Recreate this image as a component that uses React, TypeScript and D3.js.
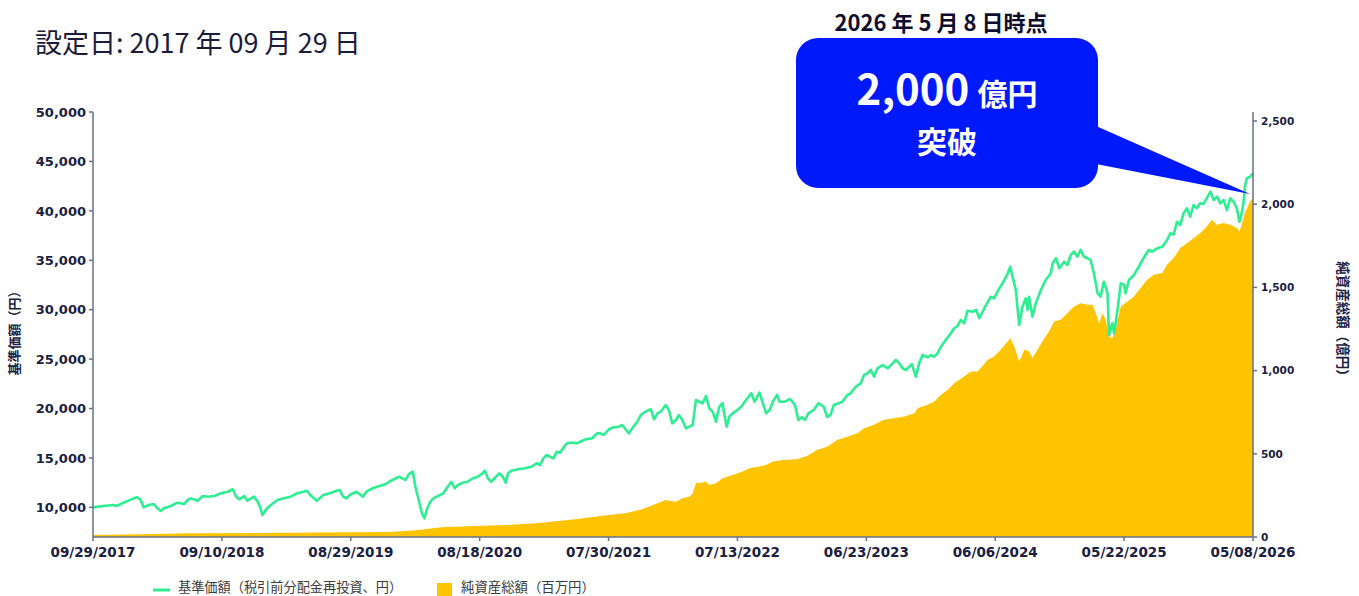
import React from "react";
import * as d3 from "d3";

const launchDate = new Date(2017, 8, 29);

const xTickLabels = [
  "09/29/2017", "09/10/2018", "08/29/2019", "08/18/2020", "07/30/2021",
  "07/13/2022", "06/23/2023", "06/06/2024", "05/22/2025", "05/08/2026",
];

const leftTicks = [10000, 15000, 20000, 25000, 30000, 35000, 40000, 45000, 50000];
const rightTicks = [0, 500, 1000, 1500, 2000, 2500];

// [days since launch, 基準価額 (円)]
const navSeries: [number, number][] = [
  [0,10000],[28,10130],[55,10240],[64,10140],[82,10470],[109,10910],[118,11020],[127,10810],[136,10000],[150,10240],
  [163,10340],[173,9900],[182,9630],[190,9900],[209,10140],[227,10470],[245,10340],[254,10740],[263,10910],[281,10670],
  [295,11150],[308,11080],[326,11150],[344,11420],[362,11580],[376,11830],[385,11080],[394,10810],[407,11150],[416,10670],
  [434,11080],[444,10570],[452,9900],[457,9220],[466,9730],[480,10240],[498,10740],[516,10910],[534,11080],[552,11420],
  [570,11580],[579,11680],[588,11250],[606,10670],[624,11250],[642,11420],[660,11680],[669,11750],[678,11080],[687,10910],
  [696,11250],[714,11580],[723,11350],[732,11080],[742,11580],[759,11930],[778,12160],[796,12360],[805,12590],[814,12770],
  [832,13100],[841,12940],[850,12770],[859,13370],[870,13610],[877,12090],[886,10740],[895,9400],[902,8890],[908,9730],
  [918,10570],[927,10910],[936,11080],[945,11250],[954,11420],[963,11930],[976,12590],[985,11930],[994,12260],[1008,12490],
  [1021,12590],[1035,12940],[1049,13100],[1062,13440],[1068,13710],[1076,12940],[1085,12590],[1098,13100],[1107,13440],[1116,13100],
  [1124,12490],[1130,13440],[1139,13710],[1157,13850],[1175,13950],[1193,14110],[1207,14460],[1216,14280],[1225,14960],[1234,15300],
  [1243,15120],[1252,14960],[1261,15630],[1270,15530],[1284,16310],[1292,16540],[1306,16540],[1315,16480],[1324,16640],[1338,16880],
  [1356,16990],[1369,17490],[1378,17490],[1387,17320],[1401,17900],[1414,18100],[1428,18160],[1437,18330],[1446,17900],[1455,17490],
  [1464,18000],[1478,18670],[1487,19340],[1500,19680],[1514,19920],[1523,18910],[1532,19510],[1541,19680],[1554,20350],[1563,19850],
  [1572,18500],[1582,18840],[1590,19340],[1599,18840],[1609,18000],[1618,18160],[1627,18330],[1636,20860],[1645,20690],[1654,20530],
  [1663,21270],[1672,20020],[1681,19680],[1690,18670],[1699,20180],[1708,20530],[1712,19510],[1719,18160],[1726,19170],[1735,19510],
  [1748,19850],[1758,20180],[1771,20860],[1785,21540],[1794,20690],[1807,21600],[1816,20530],[1825,19510],[1834,19850],[1843,20690],
  [1854,21370],[1861,20690],[1875,20690],[1889,20960],[1902,20350],[1911,18840],[1920,19110],[1929,18840],[1938,19510],[1952,19850],
  [1965,20530],[1979,20180],[1988,19170],[1997,19340],[2006,20350],[2019,20530],[2029,20690],[2042,21370],[2051,21540],[2065,22210],
  [2078,22550],[2087,23390],[2096,23560],[2105,23900],[2114,23220],[2123,24070],[2137,24400],[2151,24070],[2164,24570],[2173,24910],
  [2182,24570],[2191,24070],[2200,23900],[2209,24230],[2216,24500],[2227,23220],[2236,24570],[2245,25410],[2259,25180],[2268,25410],
  [2277,25240],[2286,25590],[2295,26250],[2308,26930],[2322,27610],[2331,28120],[2340,28350],[2349,28960],[2358,28620],[2367,29900],
  [2381,29790],[2390,29970],[2399,29130],[2408,29790],[2417,30470],[2430,31310],[2439,31150],[2448,31820],[2462,32670],[2476,33680],
  [2483,34350],[2489,33340],[2498,31990],[2507,28450],[2516,30300],[2525,31150],[2530,29970],[2534,31310],[2543,29290],[2552,30640],
  [2566,31990],[2579,33000],[2593,33680],[2598,34690],[2607,35200],[2616,34190],[2629,34850],[2638,34520],[2647,35530],[2656,35870],
  [2665,35360],[2674,36040],[2683,35360],[2693,35200],[2701,35030],[2710,33680],[2720,31660],[2728,31310],[2737,32830],[2747,31660],
  [2751,27440],[2760,28620],[2765,27610],[2774,29970],[2783,32670],[2792,32500],[2796,31660],[2805,33000],[2819,33510],[2837,34690],
  [2850,35530],[2859,36040],[2868,35870],[2882,36210],[2896,36370],[2909,37050],[2918,37730],[2927,37600],[2936,38900],[2945,38570],
  [2954,39750],[2963,40260],[2972,39410],[2981,40590],[2990,40260],[2999,40760],[3008,40700],[3017,41270],[3027,41940],[3036,41100],
  [3045,41430],[3054,40760],[3063,41100],[3072,40080],[3081,41270],[3090,40920],[3099,40260],[3106,38900],[3112,39750],[3117,40760],
  [3121,42440],[3126,43290],[3135,43450],[3143,43800],
];

// [days since launch, 純資産総額 (億円)]
const aumSeries: [number, number][] = [
  [0,12],[127,16],[263,22],[534,26],[805,30],[859,38],[886,42],[949,58],[1040,66],[1130,72],
  [1220,86],[1311,106],[1401,132],[1446,142],[1491,167],[1527,198],[1554,223],[1582,212],[1599,233],[1618,242],
  [1627,262],[1636,325],[1645,323],[1663,333],[1672,313],[1690,323],[1708,353],[1735,373],[1762,393],[1780,413],
  [1807,423],[1825,433],[1843,453],[1870,463],[1907,467],[1934,487],[1961,523],[1988,543],[2015,583],[2042,603],
  [2069,624],[2087,654],[2114,674],[2141,704],[2168,714],[2196,724],[2223,744],[2232,774],[2259,794],[2277,814],
  [2295,854],[2313,884],[2331,924],[2358,964],[2376,994],[2394,995],[2403,1015],[2421,1064],[2439,1084],[2457,1125],
  [2476,1175],[2483,1195],[2494,1144],[2507,1054],[2521,1125],[2534,1114],[2543,1075],[2557,1125],[2570,1175],[2588,1235],
  [2602,1295],[2620,1305],[2638,1345],[2656,1385],[2674,1405],[2693,1395],[2706,1395],[2715,1345],[2724,1285],[2733,1345],
  [2742,1305],[2751,1205],[2760,1195],[2769,1245],[2783,1385],[2801,1415],[2819,1445],[2837,1496],[2855,1546],[2873,1576],
  [2896,1586],[2909,1636],[2927,1676],[2945,1736],[2963,1766],[2981,1796],[2999,1826],[3017,1866],[3031,1906],[3045,1876],
  [3063,1887],[3081,1876],[3099,1857],[3106,1836],[3112,1876],[3121,1947],[3135,2017],[3143,2037],
];

const W = 1359;
const H = 596;
const M = { left: 93, right: 1253, top: 112, bottom: 537 };

const NAV_COLOR = "#2EEE92";
const AUM_COLOR = "#FFC400";
const AXIS_COLOR = "#69708a";
const TEXT_COLOR = "#1a2042";
const CALLOUT = "#0019FA";

const parseTick = d3.timeParse("%m/%d/%Y");
const tickDates = xTickLabels.map((s) => parseTick(s) as Date);

const x = d3
  .scaleTime()
  .domain(tickDates)
  .range(tickDates.map((_, i) => M.left + (i * (M.right - M.left)) / (tickDates.length - 1)));

const yL = d3.scaleLinear().domain([7000, 50000]).range([M.bottom, M.top]);
const yR = d3.scaleLinear().domain([0, 2554]).range([M.bottom, M.top]);

const dayToDate = (d: number) => d3.timeDay.offset(launchDate, d);

const fmt = d3.format(",");

export default function App() {
  const linePath = d3
    .line<[number, number]>()
    .x((d) => x(dayToDate(d[0])))
    .y((d) => yL(d[1]))(navSeries) as string;

  const areaPath = d3
    .area<[number, number]>()
    .x((d) => x(dayToDate(d[0])))
    .y0(yR(0))
    .y1((d) => yR(d[1]))(aumSeries) as string;

  const numFont = "'DejaVu Sans', Verdana, sans-serif";
  const jpFont = "'Noto Sans CJK JP', 'Noto Sans', sans-serif";

  // callout geometry
  const bx = 796, by = 38, bw = 302, bh = 150, br = 22;
  const tipDate = dayToDate(navSeries[navSeries.length - 1][0]);
  const tipX = x(tipDate) - 3;
  const tipY = yR(aumSeries[aumSeries.length - 1][1]) - 4;

  return (
    <svg
      width={W}
      height={H}
      style={{ position: "absolute", left: 0, top: 0, display: "block", background: "#fff" }}
    >
      <text x={35} y={53} fontFamily={jpFont} fontSize={27} fill="#1c1c3a">
        設定日: 2017 年 09 月 29 日
      </text>

      {/* area and line */}
      <path d={areaPath} fill={AUM_COLOR} stroke="none" />
      <path d={linePath} fill="none" stroke={NAV_COLOR} strokeWidth={2.6} strokeLinejoin="round" />

      {/* axes */}
      <g stroke={AXIS_COLOR} strokeWidth={1.5}>
        <line x1={M.left} x2={M.left} y1={M.top} y2={M.bottom} />
        <line x1={M.right} x2={M.right} y1={M.top} y2={M.bottom} />
        <line x1={M.left} x2={M.right} y1={M.bottom} y2={M.bottom} />
        {leftTicks.map((t) => (
          <line key={"lt" + t} x1={M.left - 4} x2={M.left} y1={yL(t)} y2={yL(t)} />
        ))}
        {rightTicks.map((t) => (
          <line key={"rt" + t} x1={M.right} x2={M.right + 4} y1={yR(t)} y2={yR(t)} />
        ))}
        {tickDates.map((d, i) => (
          <line key={"xt" + i} x1={x(d)} x2={x(d)} y1={M.bottom} y2={M.bottom + 4} />
        ))}
      </g>

      <g fontFamily={numFont} fontWeight="bold" fill={TEXT_COLOR}>
        {leftTicks.map((t) => (
          <text key={"ll" + t} x={M.left - 7} y={yL(t)} dy="0.36em" textAnchor="end" fontSize={13}>
            {fmt(t)}
          </text>
        ))}
        {rightTicks.map((t) => (
          <text key={"rl" + t} x={M.right + 8} y={yR(t)} dy="0.36em" textAnchor="start" fontSize={10.5}>
            {fmt(t)}
          </text>
        ))}
        {tickDates.map((d, i) => (
          <text key={"xl" + i} x={x(d)} y={557} textAnchor="middle" fontSize={13.5}>
            {xTickLabels[i]}
          </text>
        ))}
      </g>

      {/* axis titles */}
      <text
        transform={`translate(19, 330) rotate(-90)`}
        textAnchor="middle"
        fontFamily={jpFont}
        fontWeight="bold"
        fontSize={13}
        fill={TEXT_COLOR}
      >
        基準価額（円）
      </text>
      <text
        transform={`translate(1338, 322) rotate(90)`}
        textAnchor="middle"
        fontFamily={jpFont}
        fontWeight="bold"
        fontSize={13.5}
        fill={TEXT_COLOR}
      >
        純資産総額（億円）
      </text>

      {/* legend */}
      <line x1={153} x2={170} y1={590} y2={590} stroke={NAV_COLOR} strokeWidth={3} />
      <text x={178} y={592} fontFamily={jpFont} fontSize={13.2} fill="#3a3a3a">
        基準価額（税引前分配金再投資、円）
      </text>
      <rect x={437} y={583} width={15} height={14} fill={AUM_COLOR} />
      <text x={461} y={592} fontFamily={jpFont} fontSize={13.4} fill="#3a3a3a">
        純資産総額（百万円）
      </text>

      {/* callout */}
      <text x={941} y={31} textAnchor="middle" fontFamily={jpFont} fontWeight="bold" fontSize={22} fill="#0e0e2c">
        2026 年 5 月 8 日時点
      </text>
      <path
        d={`M${bx + bw - 2},${by + 88} L${tipX},${tipY} L${bx + bw - 2},${by + 126} Z`}
        fill={CALLOUT}
      />
      <rect x={bx} y={by} width={bw} height={bh} rx={br} ry={br} fill={CALLOUT} />
      <text x={947} y={105} textAnchor="middle" fontFamily={jpFont} fontWeight="bold" fill="#fff">
        <tspan fontSize={42}>2,000</tspan>
        <tspan fontSize={30} dx={8}>億円</tspan>
      </text>
      <text x={947} y={153} textAnchor="middle" fontFamily={jpFont} fontWeight="bold" fontSize={30} fill="#fff">
        突破
      </text>
    </svg>
  );
}
